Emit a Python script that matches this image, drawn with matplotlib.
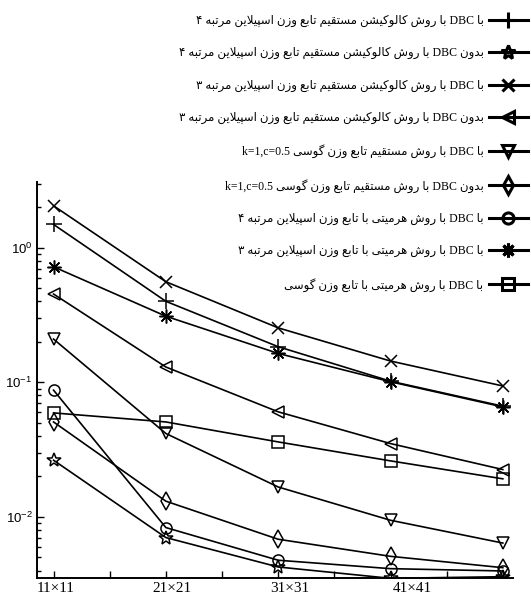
import numpy as np
import matplotlib
matplotlib.use("Agg")
import matplotlib.pyplot as plt
from matplotlib.ticker import LogLocator, NullFormatter
from matplotlib.transforms import blended_transform_factory

# grid sizes (x positions 1..5) and the labels written under the axis
x = [1, 2, 3, 4, 5]
grid_labels = ['11×11', '21×21', '31×31', '41×41']
grid_label_pos = [1.02, 2.05, 3.10, 4.19]

# errors, one list per curve
spline4_dbc = [1.49, 0.40, 0.184, 0.102, 0.0665]
spline4_nodbc = [0.0264, 0.00703, 0.00425, 0.0035, 0.0036]
spline3_dbc = [2.05, 0.559, 0.254, 0.144, 0.094]
spline3_nodbc = [0.453, 0.130, 0.0604, 0.0351, 0.0225]
gauss_dbc = [0.2096, 0.0417, 0.0167, 0.00945, 0.0064]
gauss_nodbc = [0.0508, 0.0131, 0.00683, 0.0051, 0.0042]
herm_spline4 = [0.0875, 0.00834, 0.00477, 0.00413, 0.00397]
herm_spline3 = [0.722, 0.31, 0.164, 0.101, 0.0657]
herm_gauss = [0.0593, 0.0508, 0.0361, 0.0261, 0.0192]

labels = [
    'با DBC با روش کالوکیشن مستقیم تابع وزن اسپیلاین مرتبه ۴',
    'بدون DBC با روش کالوکیشن مستقیم تابع وزن اسپیلاین مرتبه ۴',
    'با DBC با روش کالوکیشن مستقیم تابع وزن اسپیلاین مرتبه ۳',
    'بدون DBC با روش کالوکیشن مستقیم تابع وزن اسپیلاین مرتبه ۳',
    'با DBC با روش مستقیم تابع وزن گوسی k=1,c=0.5',
    'بدون DBC با روش مستقیم تابع وزن گوسی k=1,c=0.5',
    'با DBC با روش هرمیتی با تابع وزن اسپیلاین مرتبه ۴',
    'با DBC با روش هرمیتی با تابع وزن اسپیلاین مرتبه ۳',
    'با DBC با روش هرمیتی با تابع وزن گوسی',
]

# --- minimal Persian shaping (matplotlib has no bidi / joining) ---
# dual joining letters: base of the 4 presentation forms (iso, fin, ini, med)
DUAL = {'ب': 0xFE8F, 'ت': 0xFE95, 'س': 0xFEB1, 'ش': 0xFEB5, 'ع': 0xFEC9,
        'ق': 0xFED5, 'ل': 0xFEDD, 'م': 0xFEE1, 'ن': 0xFEE5, 'ه': 0xFEE9,
        'ی': 0xFBFC, 'ک': 0xFB8E, 'گ': 0xFB92, 'پ': 0xFB56}
# right joining letters: (iso, fin)
RIGHT = {'ا': (0xFE8D, 0xFE8E), 'د': (0xFEA9, 0xFEAA), 'ر': (0xFEAD, 0xFEAE),
         'ز': (0xFEAF, 0xFEB0), 'و': (0xFEED, 0xFEEE)}


def shape(word):
    out = []
    i = 0
    n = len(word)
    while i < n:
        c = word[i]
        prev_joins = i > 0 and word[i - 1] in DUAL
        nxt = word[i + 1] if i + 1 < n else ''
        if c == 'ل' and nxt == 'ا':
            out.append(chr(0xFEFC if prev_joins else 0xFEFB))
            i += 2
            continue
        if c in DUAL:
            next_joins = nxt in DUAL or nxt in RIGHT
            out.append(chr(DUAL[c] + (1 if prev_joins else 0) + (2 if next_joins else 0)))
        elif c in RIGHT:
            out.append(chr(RIGHT[c][1 if prev_joins else 0]))
        else:
            out.append(c)
        i += 1
    return ''.join(out)


def rtl(s):
    words = [w if w.isascii() else shape(w)[::-1] for w in s.split()]
    return ' '.join(reversed(words))


plt.rcParams['mathtext.default'] = 'regular'

fig = plt.figure(figsize=(5.31, 6.06), dpi=100)
ax = fig.add_axes([0.0691, 0.0462, 0.8969, 0.6535])

series = [spline4_dbc, spline4_nodbc, spline3_dbc, spline3_nodbc, gauss_dbc,
          gauss_nodbc, herm_spline4, herm_spline3, herm_gauss]
markers = ['+', '*', 'x', '<', 'v', 'd', 'o', (8, 2, 0), 's']
msizes = [11, 10, 9, 9, 9, 9, 8, 10, 8]

for y, m, ms, lab in zip(series, markers, msizes, labels):
    ax.plot(x, y, color='black', lw=1.2, marker=m, ms=ms, mfc='none',
            mec='black', mew=1.1, label=rtl(lab))

ax.set_yscale('log')
ax.set_xlim(0.85, 5.09)
ax.set_ylim(0.00352, 3.08)
ax.set_xticks(np.arange(1, 5.01, 0.5))
ax.set_xticklabels([])
ax.yaxis.set_major_locator(LogLocator(base=10, numticks=10))
ax.yaxis.set_minor_locator(LogLocator(base=10, subs=np.arange(2, 10), numticks=20))
ax.yaxis.set_minor_formatter(NullFormatter())
ax.tick_params(which='major', direction='in', length=5, width=1, labelsize=9.5, pad=3)
ax.tick_params(which='minor', direction='in', length=3, width=1)
for lab in ax.get_yticklabels():
    lab.set_family('Liberation Sans')
ax.spines['top'].set_visible(False)
ax.spines['right'].set_visible(False)
ax.spines['left'].set_linewidth(1.4)
ax.spines['bottom'].set_linewidth(1.4)

trans = blended_transform_factory(ax.transData, ax.transAxes)
for pos, txt in zip(grid_label_pos, grid_labels):
    ax.text(pos, -0.027, txt, transform=trans, ha='center', va='center',
            fontsize=11, family='Liberation Serif')

leg = fig.legend(loc='upper right', bbox_to_anchor=(0.994, 0.976), markerfirst=False,
                 frameon=False, borderpad=0, borderaxespad=0, handlelength=3.3,
                 handletextpad=0.45, labelspacing=1.72,
                 prop={'family': ['Liberation Serif', 'DejaVu Sans'], 'size': 8.5})
for h in leg.legend_handles:
    h.set_linewidth(2.2)
    h.set_markeredgewidth(2.2)

fig.savefig('out.png', dpi=100)
